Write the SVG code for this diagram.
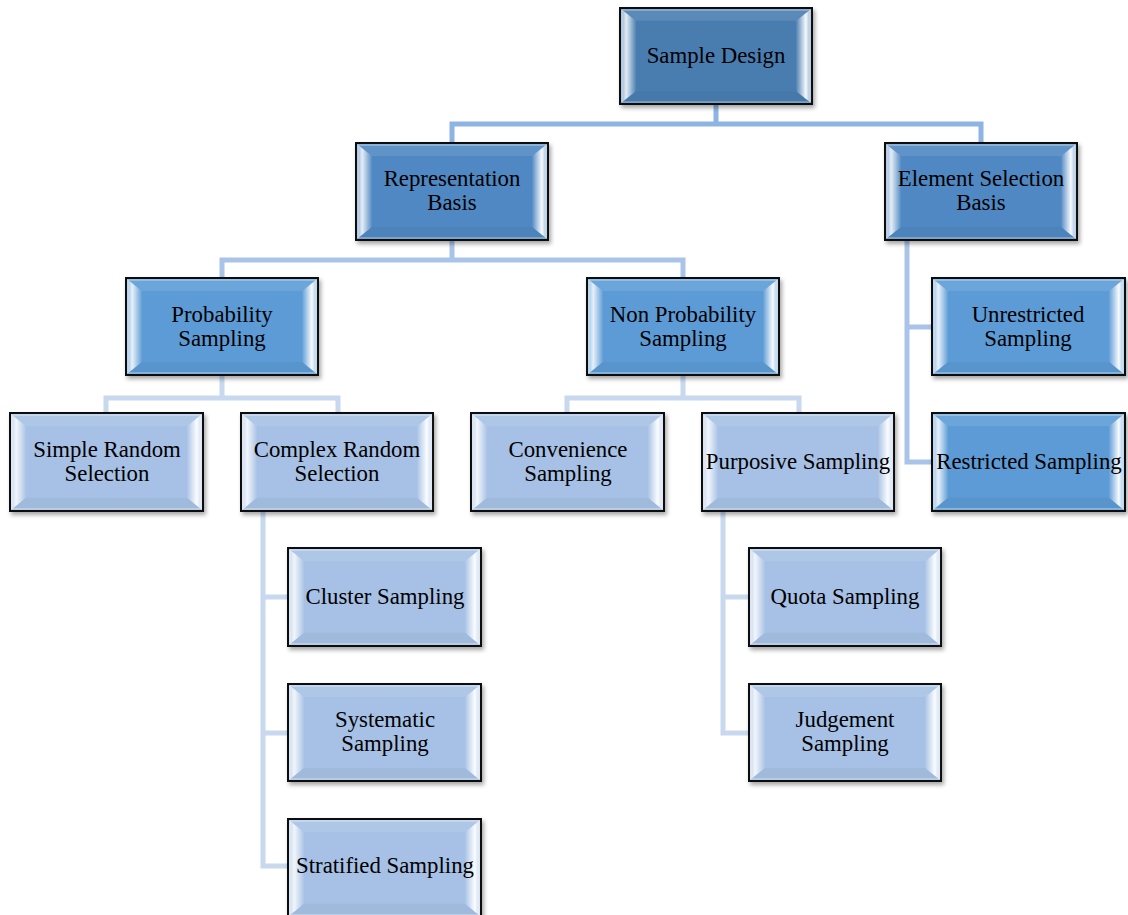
<svg xmlns="http://www.w3.org/2000/svg" xmlns:xlink="http://www.w3.org/1999/xlink" width="1128" height="915" viewBox="0 0 1128 915">
  <style>
    .box { stroke: #111; stroke-width: 2; filter: url(#shadow); }
    .dark { fill: #4a7db0; }
    .mid { fill: #4f88c2; }
    .blue { fill: #5b9bd5; }
    .light { fill: #a6c1e5; }
    .lbl { font-family: "Liberation Serif", "Times New Roman", serif; font-size: 22.8px; fill: #000; text-anchor: middle; }
    .wire { fill: none; stroke-width: 5; stroke-linejoin: miter; stroke-linecap: butt; }
    .w1 { stroke: #8db4e2; }
    .w2 { stroke: #a9c4e8; }
    .w3 { stroke: #c8d8ef; }
  </style>
  <defs>
    <filter id="shadow" x="-10%" y="-10%" width="125%" height="130%">
      <feDropShadow dx="2" dy="3" stdDeviation="2" flood-color="#000" flood-opacity="0.35"/>
    </filter>
    <linearGradient id="gl" x1="0" y1="0" x2="1" y2="0">
      <stop offset="0" stop-color="#fff" stop-opacity="0.35"/>
      <stop offset="0.35" stop-color="#fff" stop-opacity="0.85"/>
      <stop offset="1" stop-color="#fff" stop-opacity="0.05"/>
    </linearGradient>
    <linearGradient id="gr" x1="1" y1="0" x2="0" y2="0">
      <stop offset="0" stop-color="#fff" stop-opacity="0.4"/>
      <stop offset="0.35" stop-color="#fff" stop-opacity="0.95"/>
      <stop offset="1" stop-color="#fff" stop-opacity="0.05"/>
    </linearGradient>
    <!-- bevel overlay for a 193x97 box -->
    <g id="bevel">
      <polygon points="1,1 16,13 16,84 1,96" fill="url(#gl)"/>
      <polygon points="192,1 177,13 177,84 192,96" fill="url(#gr)"/>
      <polygon points="1,1 192,1 177,13 16,13" fill="#fff" fill-opacity="0.1"/>
      <polygon points="1,96 192,96 177,84 16,84" fill="#000" fill-opacity="0.035"/>
      <rect x="2" y="2" width="189" height="93" fill="none" stroke="#fff" stroke-opacity="0.45" stroke-width="1.2"/>
    </g>
  </defs>

  <!-- connectors -->
  <g id="connectors">
    <path class="wire w1" d="M452,143 V124 H981 V143 M716,104 V124"/>
    <path class="wire w2" d="M222,278 V260 H683 V278 M452,240 V260"/>
    <path class="wire w2" d="M907,240 V462 H932 M907,327 H932"/>
    <path class="wire w3" d="M106,413 V398 H338 V413 M222,375 V398"/>
    <path class="wire w3" d="M567,413 V398 H799 V413 M683,375 V398"/>
    <path class="wire w3" d="M263,511 V866 H288 M263,597 H288 M263,733 H288"/>
    <path class="wire w3" d="M723,511 V733 H749 M723,597 H749"/>
  </g>

  <g id="n-sample-design">
    <rect class="box dark" x="620" y="8" width="192" height="96"/>
    <use xlink:href="#bevel" transform="translate(620,8) scale(0.995,0.99)"/>
    <text class="lbl" x="716" y="63">Sample Design</text>
  </g>

  <g id="n-representation">
    <rect class="box mid" x="356" y="143" width="192" height="97"/>
    <use xlink:href="#bevel" transform="translate(356,143) scale(0.995,1)"/>
    <text class="lbl" x="452" y="186">Representation</text>
    <text class="lbl" x="452" y="210">Basis</text>
  </g>

  <g id="n-element-selection">
    <rect class="box mid" x="885" y="143" width="192" height="97"/>
    <use xlink:href="#bevel" transform="translate(885,143) scale(0.995,1)"/>
    <text class="lbl" x="981" y="186">Element Selection</text>
    <text class="lbl" x="981" y="210">Basis</text>
  </g>

  <g id="n-probability">
    <rect class="box blue" x="126" y="278" width="192" height="97"/>
    <use xlink:href="#bevel" transform="translate(126,278) scale(0.995,1)"/>
    <text class="lbl" x="222" y="322">Probability</text>
    <text class="lbl" x="222" y="346">Sampling</text>
  </g>

  <g id="n-non-probability">
    <rect class="box blue" x="587" y="278" width="192" height="97"/>
    <use xlink:href="#bevel" transform="translate(587,278) scale(0.995,1)"/>
    <text class="lbl" x="683" y="322">Non Probability</text>
    <text class="lbl" x="683" y="346">Sampling</text>
  </g>

  <g id="n-unrestricted">
    <rect class="box blue" x="932" y="278" width="193" height="97"/>
    <use xlink:href="#bevel" transform="translate(932,278)"/>
    <text class="lbl" x="1028" y="322">Unrestricted</text>
    <text class="lbl" x="1028" y="346">Sampling</text>
  </g>

  <g id="n-restricted">
    <rect class="box blue" x="932" y="413" width="193" height="98"/>
    <use xlink:href="#bevel" transform="translate(932,413) scale(1,1.01)"/>
    <text class="lbl" x="1029" y="469">Restricted Sampling</text>
  </g>

  <g id="n-simple-random">
    <rect class="box light" x="10" y="413" width="193" height="98"/>
    <use xlink:href="#bevel" transform="translate(10,413) scale(1,1.01)"/>
    <text class="lbl" x="107" y="457">Simple Random</text>
    <text class="lbl" x="107" y="481">Selection</text>
  </g>

  <g id="n-complex-random">
    <rect class="box light" x="241" y="413" width="192" height="98"/>
    <use xlink:href="#bevel" transform="translate(241,413) scale(0.995,1.01)"/>
    <text class="lbl" x="337" y="457">Complex Random</text>
    <text class="lbl" x="337" y="481">Selection</text>
  </g>

  <g id="n-convenience">
    <rect class="box light" x="471" y="413" width="193" height="98"/>
    <use xlink:href="#bevel" transform="translate(471,413) scale(1,1.01)"/>
    <text class="lbl" x="568" y="457">Convenience</text>
    <text class="lbl" x="568" y="481">Sampling</text>
  </g>

  <g id="n-purposive">
    <rect class="box light" x="702" y="413" width="192" height="98"/>
    <use xlink:href="#bevel" transform="translate(702,413) scale(0.995,1.01)"/>
    <text class="lbl" x="798" y="469">Purposive Sampling</text>
  </g>

  <g id="n-cluster">
    <rect class="box light" x="288" y="548" width="193" height="98"/>
    <use xlink:href="#bevel" transform="translate(288,548) scale(1,1.01)"/>
    <text class="lbl" x="385" y="604">Cluster Sampling</text>
  </g>

  <g id="n-systematic">
    <rect class="box light" x="288" y="684" width="193" height="97"/>
    <use xlink:href="#bevel" transform="translate(288,684)"/>
    <text class="lbl" x="385" y="727">Systematic</text>
    <text class="lbl" x="385" y="751">Sampling</text>
  </g>

  <g id="n-stratified">
    <rect class="box light" x="288" y="819" width="193" height="98"/>
    <use xlink:href="#bevel" transform="translate(288,819) scale(1,1.01)"/>
    <text class="lbl" x="385" y="873">Stratified Sampling</text>
  </g>

  <g id="n-quota">
    <rect class="box light" x="749" y="548" width="192" height="98"/>
    <use xlink:href="#bevel" transform="translate(749,548) scale(0.995,1.01)"/>
    <text class="lbl" x="845" y="604">Quota Sampling</text>
  </g>

  <g id="n-judgement">
    <rect class="box light" x="749" y="684" width="192" height="97"/>
    <use xlink:href="#bevel" transform="translate(749,684) scale(0.995,1)"/>
    <text class="lbl" x="845" y="727">Judgement</text>
    <text class="lbl" x="845" y="751">Sampling</text>
  </g>
</svg>
